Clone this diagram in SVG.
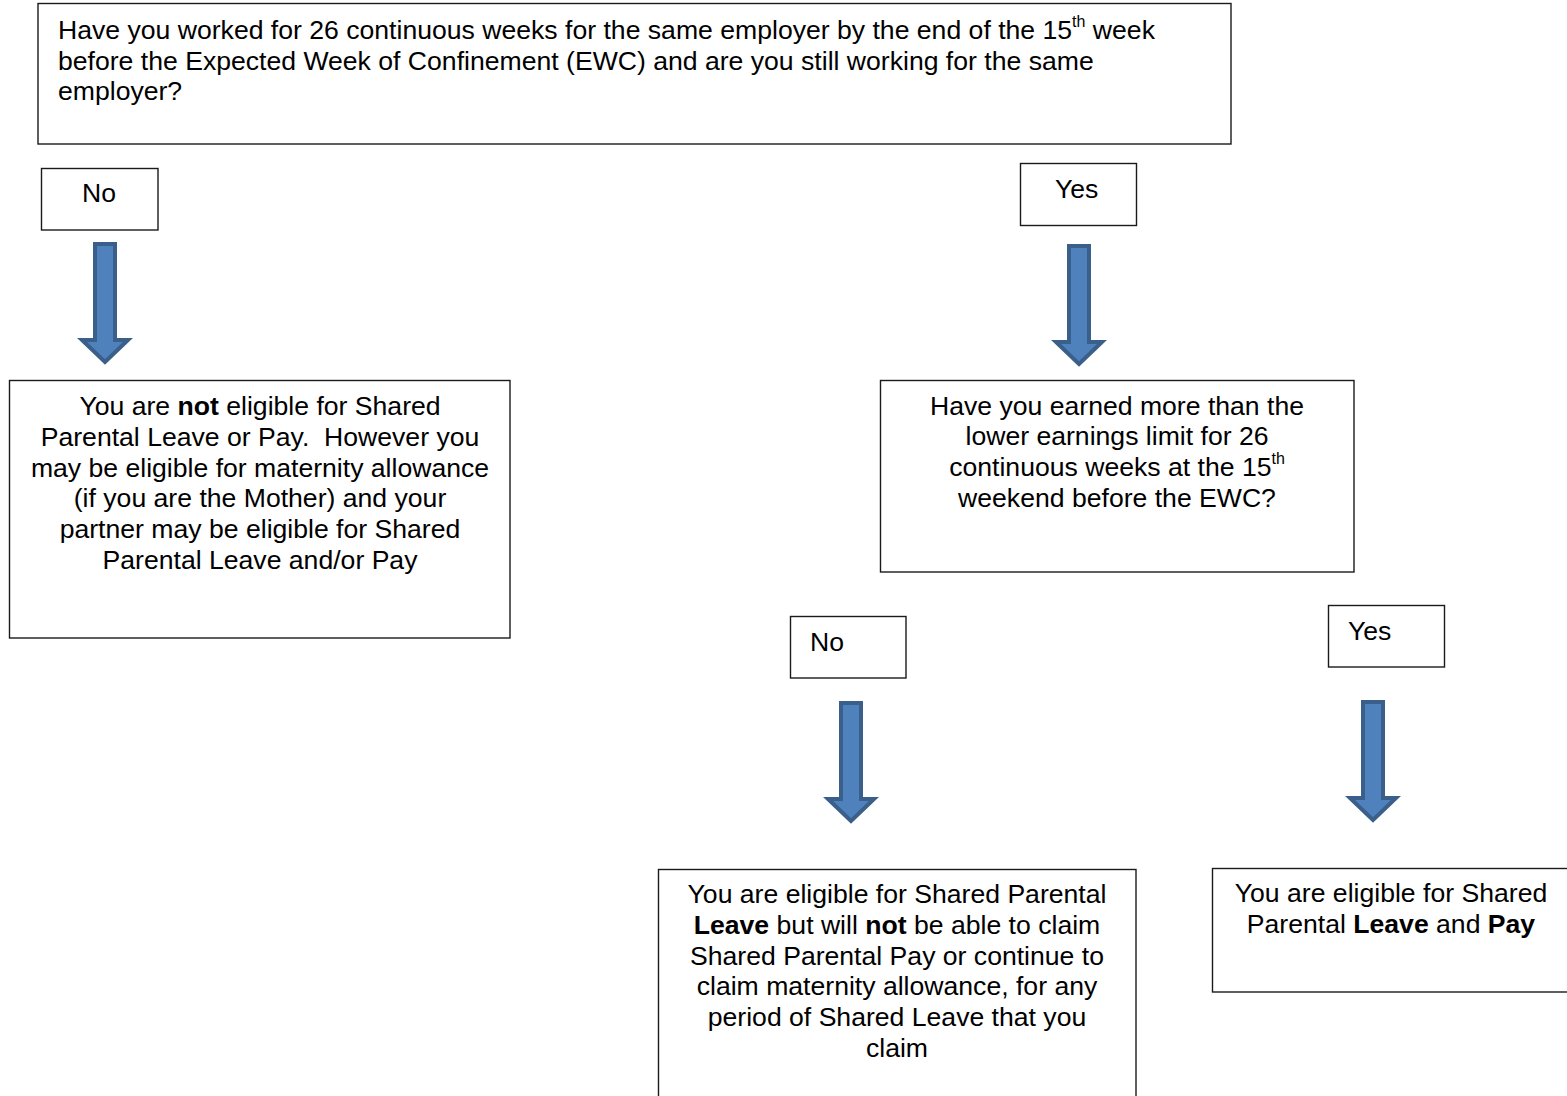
<svg xmlns="http://www.w3.org/2000/svg" xmlns:xlink="http://www.w3.org/1999/xlink" width="1567" height="1096" viewBox="0 0 1567 1096">
<style>
.box{fill:#fff;stroke:#1a1a1a;stroke-width:1.4}
text{font-family:"Liberation Sans",Arial,sans-serif;font-size:26.6px;fill:#000}
.c{text-anchor:middle}
.b{font-weight:bold}
.sup{font-size:16px}
.pre{white-space:pre}
.arrow{fill:#4f81bd;stroke:#3a5f8b;stroke-width:4;stroke-linejoin:miter}
</style>
<defs>
<path id="arrow" class="arrow" d="M-10,0 H10 V96 H23 L0,118 L-23,96 H-10 Z"/>
</defs>
<rect width="1567" height="1096" fill="#fff"/>
<g id="connectors">
<use xlink:href="#arrow" x="105" y="244"/>
<use xlink:href="#arrow" x="1079" y="246"/>
<use xlink:href="#arrow" x="851" y="703"/>
<use xlink:href="#arrow" x="1373" y="702"/>
</g>
<g id="q1">
<rect class="box" x="38" y="3.5" width="1193" height="140.5"/>
<text x="58" y="39">Have you worked for 26 continuous weeks for the same employer by the end of the 15<tspan class="sup" dy="-12">th</tspan><tspan dy="12"> week</tspan></text>
<text x="58" y="70">before the Expected Week of Confinement (EWC) and are you still working for the same</text>
<text x="58" y="100">employer?</text>
</g>
<g id="no1">
<rect class="box" x="41.5" y="168.5" width="116.5" height="61.5"/>
<text x="82" y="202">No</text>
</g>
<g id="yes1">
<rect class="box" x="1020.5" y="163.5" width="116" height="62"/>
<text x="1055" y="198">Yes</text>
</g>
<g id="not-eligible">
<rect class="box" x="9.5" y="380.5" width="500.5" height="257.5"/>
<text class="c" x="260" y="415">You are <tspan class="b">not</tspan> eligible for Shared</text>
<text class="c pre" x="260" y="446" xml:space="preserve">Parental Leave or Pay.  However you</text>
<text class="c" x="260" y="477">may be eligible for maternity allowance</text>
<text class="c" x="260" y="507">(if you are the Mother) and your</text>
<text class="c" x="260" y="538">partner may be eligible for Shared</text>
<text class="c" x="260" y="569">Parental Leave and/or Pay</text>
</g>
<g id="q2">
<rect class="box" x="880.5" y="380.5" width="473.5" height="191.5"/>
<text class="c" x="1117" y="415">Have you earned more than the</text>
<text class="c" x="1117" y="445">lower earnings limit for 26</text>
<text class="c" x="1117" y="476">continuous weeks at the 15<tspan class="sup" dy="-12">th</tspan></text>
<text class="c" x="1117" y="507">weekend before the EWC?</text>
</g>
<g id="no2">
<rect class="box" x="790.5" y="616.5" width="115.5" height="61.5"/>
<text x="810" y="651">No</text>
</g>
<g id="yes2">
<rect class="box" x="1328.5" y="605.5" width="116" height="61.5"/>
<text x="1348" y="640">Yes</text>
</g>
<g id="leave-only">
<rect class="box" x="658.5" y="869.5" width="477.5" height="240"/>
<text class="c" x="897" y="903">You are eligible for Shared Parental</text>
<text class="c" x="897" y="934"><tspan class="b">Leave</tspan> but will <tspan class="b">not</tspan> be able to claim</text>
<text class="c" x="897" y="965">Shared Parental Pay or continue to</text>
<text class="c" x="897" y="995">claim maternity allowance, for any</text>
<text class="c" x="897" y="1026">period of Shared Leave that you</text>
<text class="c" x="897" y="1057">claim</text>
</g>
<g id="leave-and-pay">
<rect class="box" x="1212.5" y="868.5" width="370" height="123.5"/>
<text class="c" x="1391" y="902">You are eligible for Shared</text>
<text class="c" x="1391" y="933">Parental <tspan class="b">Leave</tspan> and <tspan class="b">Pay</tspan></text>
</g>
</svg>
